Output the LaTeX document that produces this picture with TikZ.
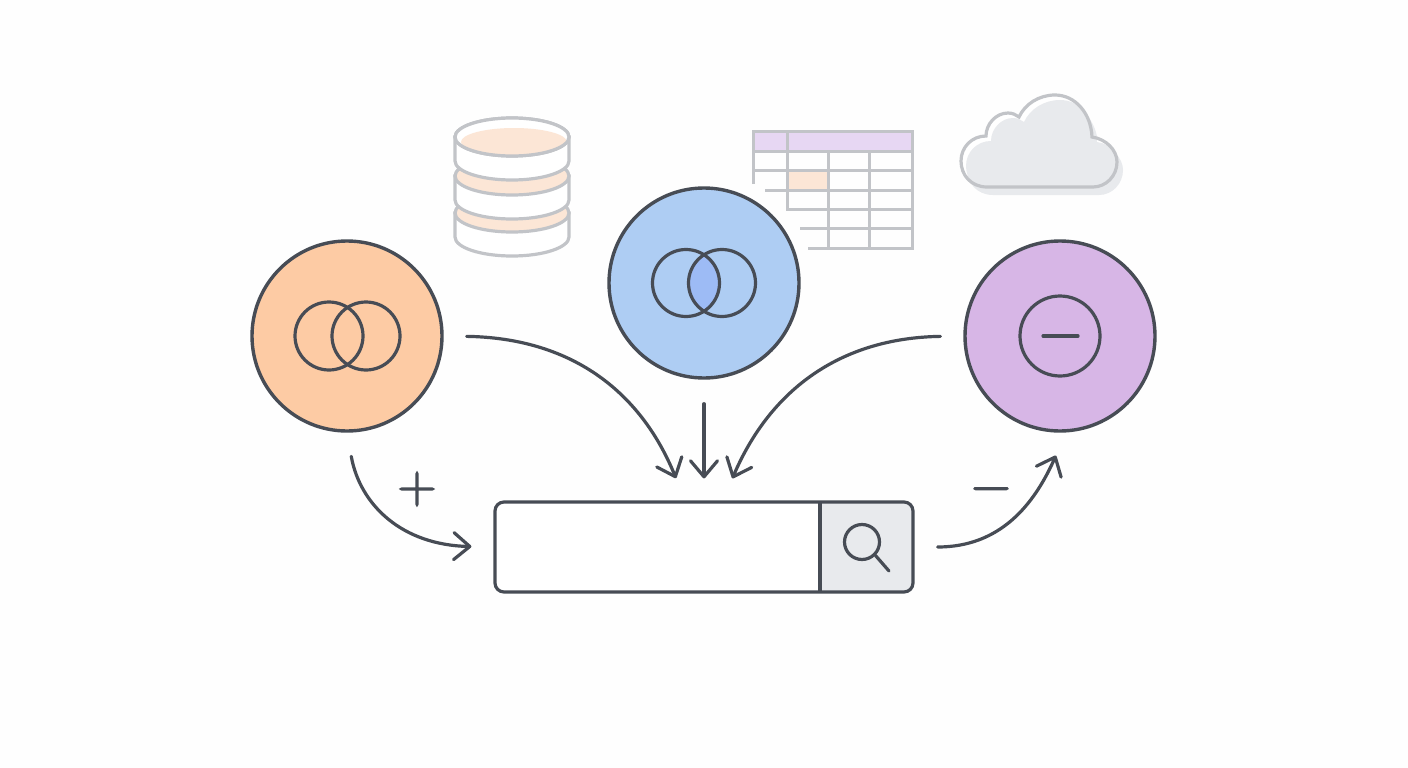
\documentclass[tikz,border=0pt]{standalone}
\usepackage{fontspec}
\usepackage{xcolor}
\usepackage{tikz}
\usetikzlibrary{arrows.meta}
\newfontfamily\signfont[FakeBold=2.5]{Latin Modern Sans}
\definecolor{inkdark}{HTML}{474C55}
\definecolor{inkgray}{HTML}{C2C4C8}
\definecolor{orangefill}{HTML}{FDCBA4}
\definecolor{bluefill}{HTML}{AECDF3}
\definecolor{lensfill}{HTML}{9DBBF5}
\definecolor{purplefill}{HTML}{D7B6E6}
\definecolor{peachfill}{HTML}{FCE6D6}
\definecolor{lilacfill}{HTML}{E7D7F3}
\definecolor{cloudfill}{HTML}{E8EAED}
\definecolor{pagefill}{HTML}{FEFEFE}
\tikzset{
  hub/.style={circle, draw=inkdark, line width=3.4pt, minimum size=190pt, inner sep=0pt},
  ring/.style={draw=inkdark, line width=3.2pt},
  flow/.style={draw=inkdark, line width=3.2pt, line cap=round,
               -{Straight Barb[length=16pt, width=27pt, line width=3.2pt, round]}},
  opsign/.style={text=inkdark, inner sep=0pt, font=\signfont\fontsize{54}{54}\selectfont},
  faint/.style={draw=inkgray, line width=3.2pt},
  gridline/.style={draw=inkgray, line width=3pt}
}
\newcommand{\cloudpath}{(987,187) .. controls (971,187) and (961,175) .. (961,161)
  .. controls (961,147) and (972,136) .. (986,136)
  .. controls (986,124) and (996,113) .. (1008,113)
  .. controls (1013,113) and (1016,115) .. (1019,117)
  .. controls (1025,104) and (1039,95) .. (1055,95)
  .. controls (1075,95) and (1091,113) .. (1092,137)
  .. controls (1106,139) and (1117,150) .. (1117,162)
  .. controls (1117,176) and (1106,187) .. (1093,187) -- cycle}
\begin{document}
\begin{tikzpicture}[x=1pt, y=-1pt]
  \fill[pagefill] (0,0) rectangle (1408,768);
  \useasboundingbox (0,0) rectangle (1408,768);

  % Database stack
  \foreach \y in {213,176,137} {
    \filldraw[faint, fill=white] (455,\y) -- (455,\y+24) arc[start angle=180, end angle=360, x radius=57, y radius=-19]
      -- (569,\y) -- cycle;
    \filldraw[faint, fill=peachfill] (512,\y) ellipse[x radius=57, y radius=19];
  }
  \fill[white] (512,137) ellipse[x radius=57, y radius=19];
  \begin{scope}
    \clip (512,137) ellipse[x radius=57, y radius=19];
    \fill[peachfill] (514,142) ellipse[x radius=53, y radius=14];
  \end{scope}
  \draw[faint] (512,137) ellipse[x radius=57, y radius=19];

  % Table
  \fill[lilacfill] (753,131) rectangle (912,151);
  \fill[peachfill] (787,170) rectangle (828,190);
  \draw[gridline] (753,184) -- (753,131) -- (912,131) -- (912,248) -- (808,248);
  \draw[gridline] (753,151) -- (912,151);
  \draw[gridline] (753,170) -- (912,170);
  \draw[gridline] (765,190) -- (912,190);
  \draw[gridline] (787,131) -- (787,209) -- (912,209);
  \draw[gridline] (800,228) -- (912,228);
  \draw[gridline] (828,151) -- (828,248);
  \draw[gridline] (869,151) -- (869,248);

  % Cloud
  \begin{scope}[shift={(6,8)}]
    \fill[cloudfill] \cloudpath;
  \end{scope}
  \fill[white] \cloudpath;
  \begin{scope}
    \clip \cloudpath;
    \begin{scope}[shift={(5,5)}]
      \fill[cloudfill] \cloudpath;
    \end{scope}
  \end{scope}
  \draw[faint] \cloudpath;

  % Hubs
  \node[hub, fill=orangefill] (orange) at (347,336) {};
  \node[hub, fill=bluefill]   (blue)   at (704,283) {};
  \node[hub, fill=purplefill] (purple) at (1060,336) {};

  % Venn icons
  \draw[ring] (329,336) circle[radius=34];
  \draw[ring] (366,336) circle[radius=34];
  \begin{scope}
    \clip (686,283) circle[radius=33.5];
    \fill[lensfill] (722,283) circle[radius=33.5];
  \end{scope}
  \draw[ring] (686,283) circle[radius=33.5];
  \draw[ring] (722,283) circle[radius=33.5];
  \draw[ring] (1060,336) circle[radius=40];
  \draw[ring, line cap=round] (1043,336) -- (1078,336);

  % Search box
  \node[draw=inkdark, line width=3.2pt, fill=white, rounded corners=9pt, minimum width=418pt,
        minimum height=90pt, inner sep=0pt,
        path picture={\fill[cloudfill] (116,-50) rectangle (215,50);}] (search) at (704,547) {};
  \coordinate (btntop) at (820,502);
  \coordinate (btnbot) at (820,592);
  \draw[ring] (btntop) -- (btnbot);
  \node[circle, ring, minimum size=35pt, inner sep=0pt] (lens) at (862,542) {};
  \coordinate (handle) at (889,571);
  \draw[ring, line cap=round] (lens.-45) -- (handle);

  % Flows
  \draw[flow, shorten <=23pt, shorten >=24pt] (orange.east) .. controls (570,338) and (640,390) .. ([xshift=-19pt]search.north);
  \draw[flow, shorten <=24pt, shorten >=22pt] (blue.south) -- (search.north);
  \draw[flow, shorten <=23pt, shorten >=24pt] (purple.west) .. controls (840,338) and (770,390) .. ([xshift=19pt]search.north);
  \draw[flow, shorten <=24pt, shorten >=22pt] (orange.south) .. controls (360,505) and (402,545) .. (search.west);
  \draw[flow, shorten <=23pt, shorten >=25pt] (search.east) .. controls (1000,547) and (1034,505) .. ([xshift=6pt]purple.south);

  % Signs
  \node[opsign] (plus) at (417,489) {+};
  \node[opsign] (minus) at (991,495) {−};
\end{tikzpicture}
\end{document}
